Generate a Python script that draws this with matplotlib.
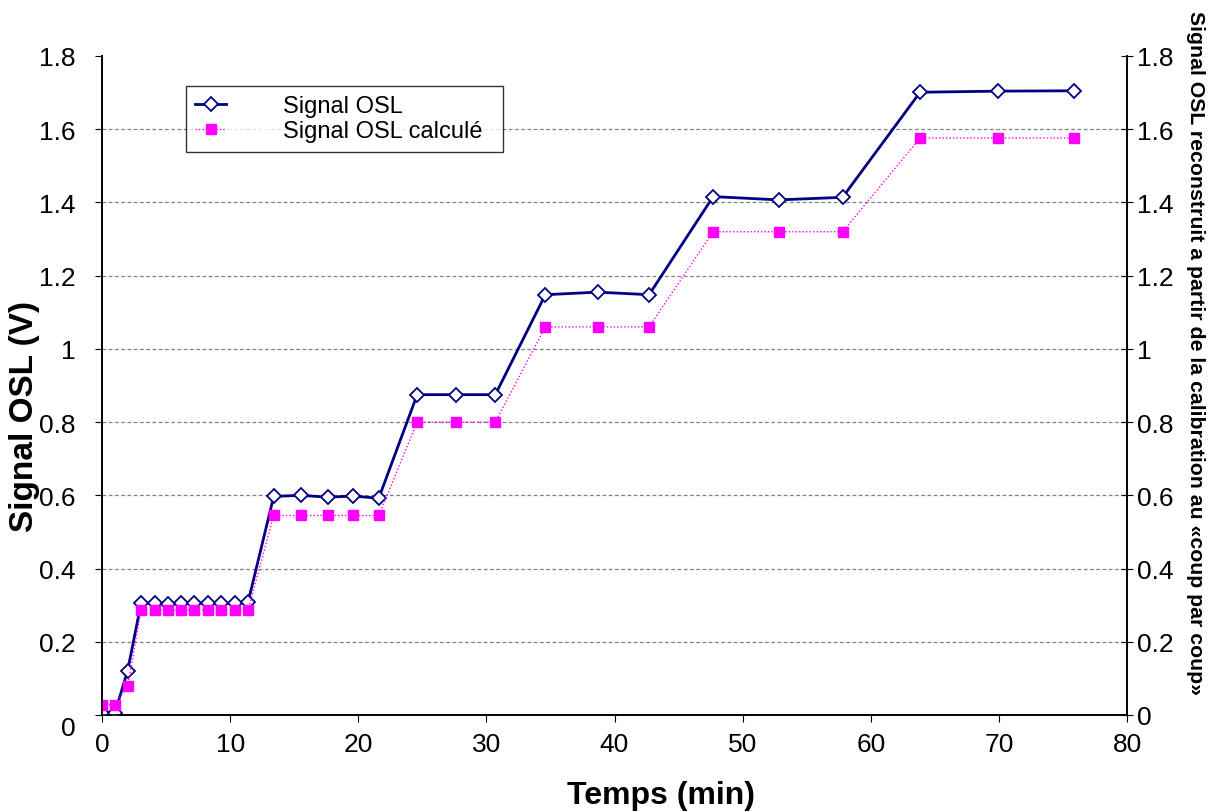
import matplotlib
matplotlib.use("Agg")
import matplotlib.pyplot as plt
import matplotlib.transforms as mtransforms

plt.rcParams['font.family'] = ['Liberation Sans', 'DejaVu Sans']

# time (min) of each measurement
temps = [0, 1.0, 2.0, 3.05, 4.1, 5.15, 6.15, 7.2, 8.25, 9.3, 10.35, 11.4,
         13.4, 15.5, 17.6, 19.6, 21.6,
         24.6, 27.6, 30.7,
         34.6, 38.7, 42.7,
         47.7, 52.8, 57.8,
         63.85, 69.9, 75.9]

# measured OSL signal (V)
signal_osl = [0.005, 0.005, 0.121, 0.305, 0.306, 0.304, 0.306, 0.305, 0.306, 0.305, 0.305, 0.308,
              0.597, 0.600, 0.595, 0.598, 0.592,
              0.875, 0.875, 0.875,
              1.148, 1.155, 1.148,
              1.416, 1.407, 1.414,
              1.701, 1.704, 1.705]

# OSL signal rebuilt from the shot-by-shot calibration
signal_calcule = [0.028, 0.028, 0.078, 0.287, 0.287, 0.287, 0.287, 0.287, 0.287, 0.287, 0.287, 0.287,
                  0.545, 0.545, 0.545, 0.545, 0.545,
                  0.800, 0.800, 0.800,
                  1.060, 1.060, 1.060,
                  1.320, 1.320, 1.320,
                  1.576, 1.576, 1.576]

y_ticks = [0, 0.2, 0.4, 0.6, 0.8, 1.0, 1.2, 1.4, 1.6, 1.8]
y_labels = ["0", "0.2", "0.4", "0.6", "0.8", "1", "1.2", "1.4", "1.6", "1.8"]
x_ticks = [0, 10, 20, 30, 40, 50, 60, 70, 80]

W, H = 1212, 812
fig = plt.figure(figsize=(W/100, H/100), dpi=100)
ax = fig.add_axes([102/W, 1 - 716/H, (1127-102)/W, (716-57)/H])
ax2 = ax.twinx()

#dashed grey gridlines, Excel style
for yv in y_ticks[1:-1]:
    ax.axhline(yv, color="#808080", lw=0.9, ls=(0, (3, 2)), zorder=0)

l1, = ax.plot(temps, signal_osl, color="#000080", lw=2.0, marker="D", markersize=7,
              markerfacecolor="white", markeredgecolor="#000080", markeredgewidth=1.3,
              label="Signal OSL", zorder=3)
l2, = ax2.plot(temps, signal_calcule, color="#FF00FF", lw=1.0, ls=(0, (1, 1.5)),
               marker="s", markersize=6.5, markerfacecolor="#FF00FF",
               markeredgecolor="#FF00FF", label="Signal OSL calculé", zorder=2)

for a in (ax, ax2):
    a.set_xlim(0, 80)
    a.set_ylim(0, 1.8)
    a.set_yticks(y_ticks)
    a.set_yticklabels(y_labels)
    a.spines["top"].set_visible(False)
    for s in a.spines.values():
        s.set_linewidth(1.2)

ax.set_xticks(x_ticks)
ax.tick_params(axis="x", direction="out", length=5, pad=7, labelsize=19)
ax.tick_params(axis="y", direction="out", length=5, pad=14, labelsize=19)
ax2.tick_params(axis="y", direction="inout", length=9, pad=3, labelsize=19)

# Excel pushes the left "0" a bit down
lbl0 = ax.get_yticklabels()[0]
lbl0.set_transform(lbl0.get_transform() + mtransforms.ScaledTranslation(0, -11/100, fig.dpi_scale_trans))

fig.text(661/W, 1 - 796/H, "Temps (min)", fontsize=23, fontweight="bold",
         ha="center", va="center")
fig.text(25/W, 1 - 417/H, "Signal OSL (V)", fontsize=24, fontweight="bold",
         ha="center", va="center", rotation=90)
fig.text(1195/W, 1 - 353/H,
         "Signal OSL reconstruit a partir de la calibration au «coup par coup»",
         fontsize=15.3, fontweight="bold", ha="center", va="center", rotation=270,
         family=["Liberation Sans Narrow", "Liberation Sans", "DejaVu Sans"])

leg = ax.legend(handles=[l1, l2], loc="upper left",
                bbox_to_anchor=(84/1025, 1 - 30/659 - 0.01, 317/1025, 0.01), mode="expand",
                fontsize=17, frameon=True, fancybox=False, edgecolor="black",
                handlelength=1.3, borderpad=0.4, labelspacing=0.12, handletextpad=2.4,
                borderaxespad=0)
leg.get_frame().set_linewidth(1.0)
leg.set_zorder(5)

fig.savefig("out.png", dpi=100)
